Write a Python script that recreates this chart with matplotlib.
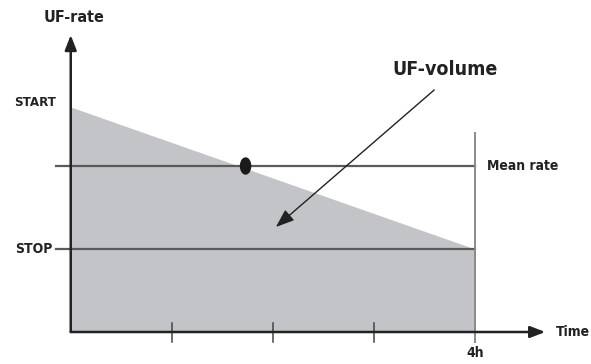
import matplotlib
matplotlib.use("Agg")
import matplotlib.pyplot as plt
from matplotlib.patches import Ellipse

plt.rcParams['font.family'] = ['DejaVu Sans']
plt.rcParams['font.weight'] = 'bold'
plt.rcParams['font.stretch'] = 'condensed'

# Ultrafiltration profile: rate falls linearly from START to STOP over the session
session_hours = [0, 4]
profile_rate = [2.25, 0.83]          # START, STOP (arbitrary rate units)
start_rate = profile_rate[0]
stop_rate = profile_rate[1]
mean_rate = 1.66
mean_marker_hour = 1.73
tick_hours = [1, 2, 3, 4]
tick_labels = ['', '', '', '4h']

fill_color = '#c3c4c8'
axis_color = '#222222'
line_color = '#5a5a5a'

fig = plt.figure(figsize=(5.91, 3.64), dpi=100)
ax = fig.add_axes([0, 0, 1, 1])
ax.set_xlim(-0.70, 5.148)
ax.set_ylim(-0.32, 3.32)
ax.axis('off')

# shaded UF-volume under the falling rate
ax.fill_between(session_hours, [0, 0], profile_rate, color=fill_color, lw=0, zorder=1)

# reference lines for mean rate and stop rate
ax.plot([-0.145, session_hours[1]], [mean_rate, mean_rate], color=line_color, lw=1.6, zorder=2)
ax.plot([-0.145, session_hours[1]], [stop_rate, stop_rate], color=line_color, lw=1.6, zorder=2)

# end of session marker line
ax.plot([session_hours[1], session_hours[1]], [-0.10, 1.99], color='#8a8a8a', lw=1.4, zorder=2)

# ticks along the time axis
for h in tick_hours[:-1]:
    ax.plot([h, h], [-0.10, 0.095], color='#444444', lw=1.1, zorder=3)

# axes with arrowheads
arrow_kw = dict(arrowstyle='-|>,head_length=0.9,head_width=0.35',
                color=axis_color, lw=1.8, shrinkA=0, shrinkB=0)
ax.annotate('', xy=(0, 2.97), xytext=(0, 0), arrowprops=arrow_kw, zorder=4)
ax.annotate('', xy=(4.695, 0), xytext=(0, 0), arrowprops=arrow_kw, zorder=4)

# mean-rate point
ax.add_patch(Ellipse((mean_marker_hour, mean_rate), 0.10, 0.16,
                     color='#1a1a1a', zorder=5))

# labels
ax.text(0.03, 3.14, 'UF-rate', ha='center', va='center', fontsize=11.5, color=axis_color)
ax.text(-0.145, start_rate + 0.04, 'START', ha='right', va='center', fontsize=9.5, color=axis_color)
ax.text(-0.18, stop_rate, 'STOP', ha='right', va='center', fontsize=10, color=axis_color)
ax.text(4.12, mean_rate, 'Mean rate', ha='left', va='center', fontsize=10, color=axis_color)
ax.text(4.80, 0, 'Time', ha='left', va='center', fontsize=10, color=axis_color)
for h, lab in zip(tick_hours, tick_labels):
    if lab:
        ax.text(h, -0.21, lab, ha='center', va='center', fontsize=10, color=axis_color)

ax.annotate('UF-volume', xy=(2.03, 1.05), xytext=(3.18, 2.62),
            ha='left', va='center', fontsize=14, color=axis_color,
            arrowprops=dict(arrowstyle='-|>,head_length=0.8,head_width=0.3',
                            color=axis_color, lw=1.0, shrinkA=0, shrinkB=0,
                            relpos=(0.40, -0.55)),
            zorder=6)

fig.savefig('out.png', dpi=100)
